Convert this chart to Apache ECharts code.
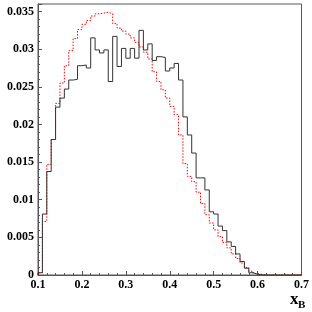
<!DOCTYPE html>
<html><head><meta charset="utf-8">
<script src="https://cdn.jsdelivr.net/npm/echarts@6/dist/echarts.min.js"></script>
<style>html,body{margin:0;padding:0;background:#fff}#c{width:312px;height:312px}</style>
</head><body><div id="c"></div>
<script>
const binStart = 0.1;
const binWidth = 0.01;
const xTickLabels = ['0.1','0.2','0.3','0.4','0.5','0.6','0.7'];
const yTickLabels = ['0','0.005','0.01','0.015','0.02','0.025','0.03','0.035'];
const blackHist = [
  0.0003,0.0081,0.01375,0.0180,0.0223,0.0235,0.0247,0.0259,0.0260,0.0278,
  0.0279,0.0275,0.0315,0.0299,0.0295,0.0299,0.0257,0.0317,0.0277,0.0301,
  0.0288,0.0301,0.0288,0.0325,0.0299,0.0307,0.0285,0.0290,0.0289,0.0271,
  0.0275,0.0281,0.0259,0.0210,0.0186,0.0162,0.0129,0.0129,0.0113,0.0084,
  0.0081,0.0065,0.0059,0.0044,0.0038,0.0028,0.0018,0.0009,0.0003,0.0001,
  0,0,0,0,0,0,0,0,0,0
];
const redHist = [
  0.0003,0.0071,0.0147,0.0180,0.0228,0.0255,0.0278,0.0298,0.0314,0.0326,
  0.0333,0.0338,0.0344,0.0347,0.0348,0.0349,0.0347,0.0334,0.0328,0.0324,
  0.0320,0.0315,0.0309,0.0303,0.0296,0.0287,0.0270,0.0257,0.0246,0.0235,
  0.0224,0.0213,0.0186,0.0148,0.0131,0.0124,0.0110,0.0095,0.0080,0.0069,
  0.0060,0.0051,0.0043,0.0036,0.0028,0.0022,0.0016,0.0010,0.0005,0.0002,
  0.0001,0,0,0,0,0,0,0,0,0
];

function steps(vals){
  const d = [[binStart, 0]];
  vals.forEach((v,i)=>d.push([+(binStart+i*binWidth).toFixed(2), v]));
  d.push([+(binStart+vals.length*binWidth).toFixed(2), vals[vals.length-1]]);
  return d;
}
const labelFont = {fontFamily:'Liberation Serif', fontWeight:'bold', fontSize:12, color:'#000'};
const chart = echarts.init(document.getElementById('c'), null, {renderer:'canvas'});
chart.setOption({
  animation:false,
  backgroundColor:'#fff',
  grid:{left:38, right:7, top:4, bottom:37, show:true, borderColor:'#555', borderWidth:1, backgroundColor:'transparent'},
  xAxis:{
    type:'value', min:0.1, max:0.7, interval:0.1,
    axisLine:{show:true, lineStyle:{color:'#555', width:1}},
    axisTick:{show:true, inside:true, length:4, lineStyle:{color:'#555'}},
    minorTick:{show:true, splitNumber:5, length:2, lineStyle:{color:'#555'}},
    splitLine:{show:false},
    axisLabel:Object.assign({margin:4, formatter:v=>{const i=Math.round((v-0.1)/0.1);return xTickLabels[i]||'';}}, labelFont)
  },
  yAxis:{
    type:'value', min:0, max:0.036, interval:0.005,
    axisLine:{show:true, lineStyle:{color:'#555', width:1}},
    axisTick:{show:true, inside:true, length:4, lineStyle:{color:'#555'}},
    minorTick:{show:true, splitNumber:5, length:2, lineStyle:{color:'#555'}},
    splitLine:{show:false},
    axisLabel:Object.assign({margin:4, showMaxLabel:false, padding:[3,0,0,0], formatter:v=>{const i=Math.round(v/0.005);return (Math.abs(v-i*0.005)<1e-6)?(yTickLabels[i]||''):'';}}, labelFont)
  },
  series:[
    {type:'line', step:'end', data:steps(redHist), symbol:'none', z:2,
     lineStyle:{color:'#ff0000', width:1, type:[1.5,1.5]}},
    {type:'line', step:'end', data:steps(blackHist), symbol:'none', z:3,
     lineStyle:{color:'#333', width:1}}
  ],
  graphic:[
    {type:'text', style:{x:290, y:308.5, text:'x', fontFamily:'Liberation Serif', fontWeight:'bold', fontSize:17, fill:'#000', verticalAlign:'bottom', align:'left'}},
    {type:'text', style:{x:298, y:310.5, text:'B', fontFamily:'Liberation Serif', fontWeight:'bold', fontSize:11, fill:'#000', verticalAlign:'bottom', align:'left'}}
  ]
});
</script>
</body></html>
